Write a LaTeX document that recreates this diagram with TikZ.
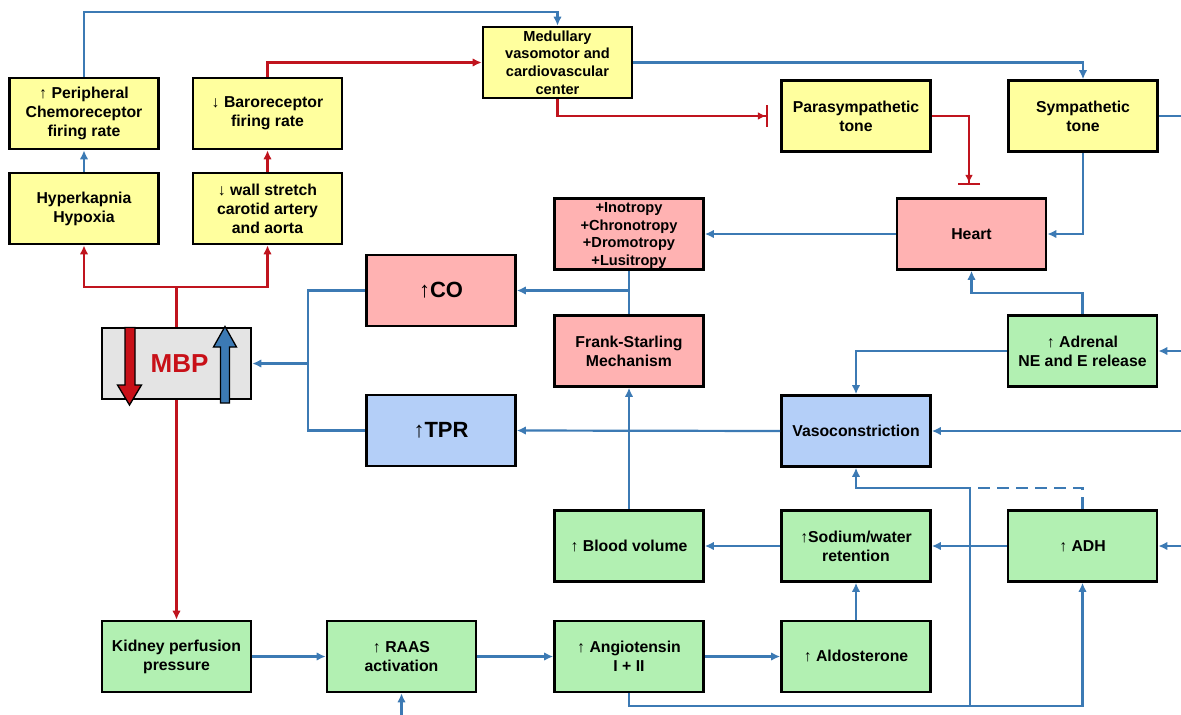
\documentclass[tikz,border=0pt]{standalone}
\usepackage{fontspec}
\setmainfont{Liberation Sans}
\usetikzlibrary{arrows.meta,calc}
\definecolor{ylw}{RGB}{255,255,158}
\definecolor{pnk}{RGB}{255,178,178}
\definecolor{grn}{RGB}{178,240,178}
\definecolor{blu}{RGB}{180,207,248}
\definecolor{gry}{RGB}{228,228,228}
\definecolor{lblue}{RGB}{60,122,180}
\definecolor{lred}{RGB}{192,20,30}
\definecolor{mred}{RGB}{200,16,24}
\newcommand{\uarr}{{\mdseries ↑}}
\newcommand{\darr}{{\mdseries ↓}}
\tikzset{
  box/.style={draw=black, line width=2.6pt, minimum width=149pt, minimum height=71pt,
    align=center, inner sep=1pt, font=\bfseries\fontsize{15.8}{19}\selectfont},
  yb/.style={box, fill=ylw},
  pk/.style={box, fill=pnk},
  gb/.style={box, fill=grn},
  bb/.style={box, fill=blu},
  smallfont/.style={inner sep=0pt, text depth=0pt, font=\bfseries\fontsize{14.6}{17.6}\selectfont},
  bigfont/.style={font=\bfseries\fontsize{22}{26}\selectfont},
  bl/.style={draw=lblue, line width=2.2pt},
  rd/.style={draw=lred, line width=2.2pt},
  tbar/.style={-{Latex[length=8pt,width=8pt]Bar[width=22pt,line width=2.4pt]}},
  >={Latex[length=9pt,width=8.5pt]},
  blockarrow/.style={draw=black, line width=1.3pt, line join=miter}
}
\begin{document}
\begin{tikzpicture}[x=1pt,y=-1pt]
\useasboundingbox (0,0) rectangle (1181,715);
\fill[white] (0,0) rectangle (1181,715);

% nodes
\node[yb] (chemo) at (84,113.5) {\uarr{} Peripheral\\Chemoreceptor\\firing rate};
\node[yb] (hyper) at (84,208.5) {Hyperkapnia\\Hypoxia};
\node[yb] (baro) at (267.5,113.5) {\darr{} Baroreceptor\\firing rate};
\node[yb] (wall) at (267.5,208.5) {\darr{} wall stretch\\carotid artery\\and aorta};
\node[yb,smallfont] (med) at (557.5,62.5) {Medullary\\vasomotor and\\cardiovascular\\center};
\node[yb] (para) at (856,116) {Parasympathetic\\tone};
\node[yb] (symp) at (1083,116) {Sympathetic\\tone};
\node[pk] (heart) at (971.5,234) {Heart};
\node[pk,smallfont] (ino) at (629,234) {+Inotropy\\+Chronotropy\\+Dromotropy\\+Lusitropy};
\node[pk,bigfont] (co) at (441,290.5) {\uarr CO};
\node[box,fill=gry] (mbp) at (176.5,363.5) {};
\node[text=mred, font=\bfseries\fontsize{26}{30}\selectfont] (mbptext) at (179.5,364) {MBP};
\node[bb,bigfont] (tpr) at (441,430.5) {\uarr TPR};
\node[pk] (fs) at (629,351) {Frank-Starling\\Mechanism};
\node[gb] (adrenal) at (1082.5,351) {\uarr{} Adrenal\\NE and E release};
\node[bb] (vaso) at (856,431) {Vasoconstriction};
\node[gb] (blood) at (629,546) {\uarr{} Blood volume};
\node[gb] (sodium) at (856,546) {\uarr Sodium/water\\retention};
\node[gb] (adh) at (1082.5,546) {\uarr{} ADH};
\node[gb] (kidney) at (176.5,656.5) {Kidney perfusion\\pressure};
\node[gb] (raas) at (401.5,656.5) {\uarr{} RAAS\\activation};
\node[gb] (angio) at (629,656.5) {\uarr{} Angiotensin\\I + II};
\node[gb] (aldo) at (856,656.5) {\uarr{} Aldosterone};

% block arrows inside MBP
\draw[blockarrow, fill=mred] (125,327.5) -- (135,327.5) -- (135,385) -- (141.5,385) -- (129.5,405) -- (117.5,385) -- (125,385) -- cycle;
\draw[blockarrow, fill=lblue] (220.5,403) -- (229.5,403) -- (229.5,347) -- (236.5,347) -- (225,326.5) -- (213.5,347) -- (220.5,347) -- cycle;

% coordinates
\coordinate (ytop) at (0,12);
\coordinate (split) at (176.5,287);
\coordinate (jco) at (629,290.5);
\coordinate (jm) at (308,363.5);
\coordinate (jb) at (970,706);
\coordinate (jv) at (856,488);
\coordinate (jd) at (970,488);
\coordinate (pbar) at (969,116);
\coordinate (ahy) at (0,293);
\coordinate (r1) at (1181,116);
\coordinate (r2) at (1181,351);
\coordinate (r3) at (1181,431);
\coordinate (r4) at (1181,546);
\coordinate (b1) at (401.5,715);

% connectors - red
\draw[rd,->] (wall) -- (baro);
\draw[rd,->] (baro.north) |- (med.west);
\draw[rd] (mbp.north) -- (split);
\draw[rd,->] (split) -| (hyper.south);
\draw[rd,->] (split) -| (wall.south);
\draw[rd,tbar,shorten >=12pt] (med.south) |- (para.west);
\draw[rd,tbar,shorten >=12pt] (para.east) -| (pbar |- heart.north);
\draw[rd,->] (mbp.south) -- (kidney.north);

% connectors - blue
\draw[bl,->] (hyper) -- (chemo);
\draw[bl,->] (chemo.north) -- (chemo.north |- ytop) -| (med.north);
\draw[bl,->] (med.east) -| (symp.north);
\draw[bl,->] (symp.south) |- (heart.east);
\draw[bl] (symp.east) -- (r1);
\draw[bl,->] (heart.west) -- (ino.east);
\draw[bl] (ino.south) -- (fs.north);
\draw[bl,->] (jco) -- (co.east);
\draw[bl,->] (adrenal.north) -- (adrenal.north |- ahy) -| (heart.south);
\draw[bl,->] (adrenal.west) -| (vaso.north);
\draw[bl,->] (r2) -- (adrenal.east);
\draw[bl,->] (r3) -- (vaso.east);
\draw[bl,->] (r4) -- (adh.east);
\draw[bl,->] (vaso.west) -- (tpr.east);
\draw[bl,->] (blood.north) -- (fs.south);
\draw[bl] (co.west) -| (jm) |- (tpr.west);
\draw[bl,->] (jm) -- (mbp.east);
\draw[bl,->] (kidney.east) -- (raas.west);
\draw[bl,->] (raas.east) -- (angio.west);
\draw[bl,->] (angio.east) -- (aldo.west);
\draw[bl,->] (aldo.north) -- (sodium.south);
\draw[bl,->] (sodium.west) -- (blood.east);
\draw[bl,->] (adh.west) -- (sodium.east);
\draw[bl,->] (angio.south) |- (jb) -| (adh.south);
\draw[bl,->] (jb) |- (jv) -- (vaso.south);
\draw[bl,dash pattern=on 12pt off 7pt] (adh.north) |- (jd);
\draw[bl,->] (b1) -- (raas.south);
\end{tikzpicture}
\end{document}
